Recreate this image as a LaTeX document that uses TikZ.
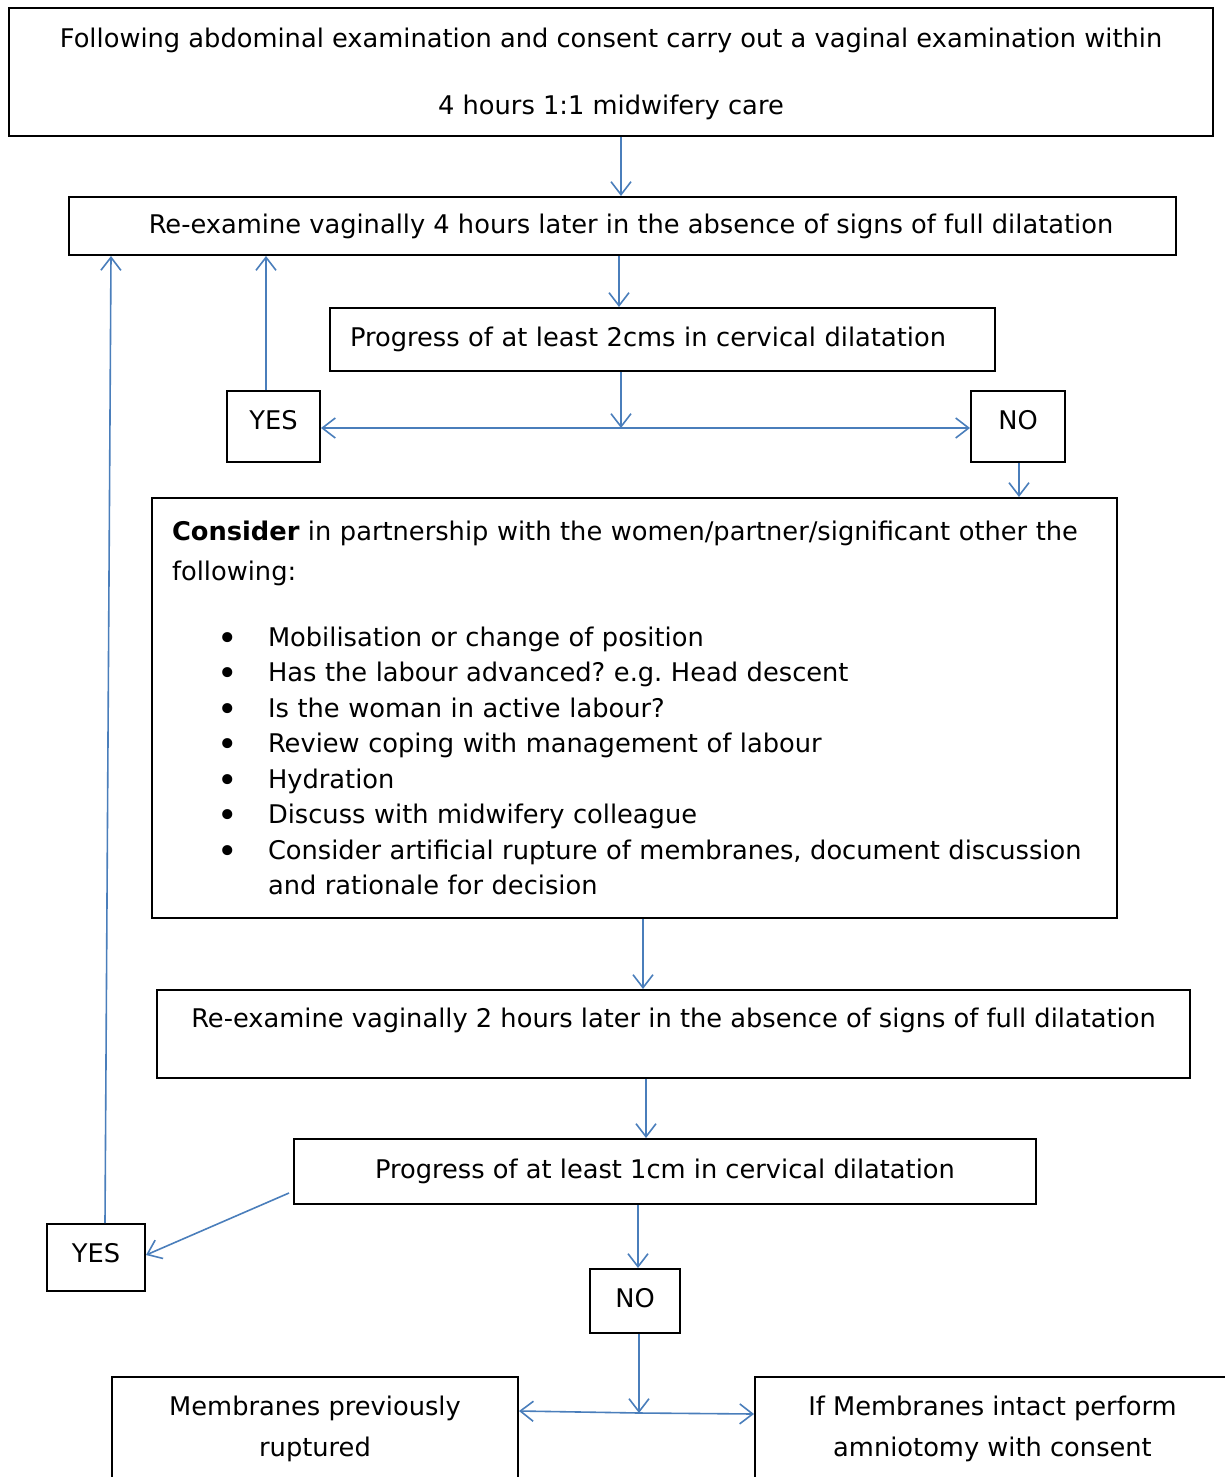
\documentclass[tikz,border=0pt]{standalone}
\usepackage{fontspec}
\setmainfont{DejaVu Sans}
\usetikzlibrary{arrows.meta,calc}
\definecolor{linkblue}{HTML}{4A7EBB}
\newcommand{\bul}{\hspace*{45pt}\makebox[51pt][l]{\raisebox{-4pt}{\scalebox{1.35}{•}}}}
\begin{document}
\frenchspacing
\begin{tikzpicture}[x=1pt,y=-1pt,
  box/.style={draw=black,line width=2pt,rectangle,inner sep=0pt,align=center,
    font=\fontsize{25.7}{30}\selectfont},
  arr/.style={draw=linkblue,line width=1.6pt,-{Straight Barb[length=13pt,width=20pt,line width=1.6pt]}},
  ln/.style={draw=linkblue,line width=1.6pt}]
\useasboundingbox (0,0) rectangle (1225,1477);
\clip (0,0) rectangle (1225,1477);

% top box
\node[box,minimum width=1204,minimum height=128,
  font=\fontsize{25.7}{67}\selectfont,text height=86,text depth=1] (b1) at (611,72)
  {Following abdominal examination and consent carry out a vaginal examination within\\4 hours 1:1 midwifery care};

\node[box,minimum width=1107,minimum height=58] (b2) at (622.5,226)
  {\hspace*{17pt}Re-examine vaginally 4 hours later in the absence of signs of full dilatation};

\node[box,minimum width=665,minimum height=63,text width=625,align=left] (b3) at (662.5,339.5)
  {Progress of at least 2cms in cervical dilatation};

\node[box,minimum width=93,minimum height=71,text height=18,text depth=12] (y1) at (273.5,426.5) {YES};
\node[box,minimum width=94,minimum height=71,text height=18,text depth=12] (n1) at (1018,426.5) {NO};

\node[box,minimum width=965,minimum height=420,text width=925,align=left,
  font=\fontsize{25.7}{40}\selectfont] (b4) at (634.5,708)
  {\textbf{Consider} in partnership with the women/partner/significant other the\\
   following:\\[30pt]
   {\fontsize{25.7}{35.5}\selectfont
   \bul Mobilisation or change of position\\
   \bul Has the labour advanced? e.g. Head descent\\
   \bul Is the woman in active labour?\\
   \bul Review coping with management of labour\\
   \bul Hydration\\
   \bul Discuss with midwifery colleague\\
   \bul Consider artificial rupture of membranes, document discussion\\
   \hspace*{96pt}and rationale for decision\par}};

\node[box,minimum width=1033,minimum height=88,text height=18,text depth=31] (b5) at (673.5,1034)
  {Re-examine vaginally 2 hours later in the absence of signs of full dilatation};

\node[box,minimum width=742,minimum height=65] (b6) at (665,1171.5)
  {Progress of at least 1cm in cervical dilatation};

\node[box,minimum width=98,minimum height=67,text height=18,text depth=8] (y2) at (96,1257.5) {YES};
\node[box,minimum width=90,minimum height=64,text height=18,text depth=5] (n2) at (635,1301) {NO};

\node[box,anchor=north,minimum width=406,minimum height=130,
  font=\fontsize{25.7}{41}\selectfont,text height=40,text depth=12] (b7) at (315,1376)
  {Membranes previously\\ruptured};
\node[box,anchor=north,minimum width=475,minimum height=130,
  font=\fontsize{25.7}{41}\selectfont,text height=40,text depth=12] (b8) at (992.5,1376)
  {If Membranes intact perform\\amniotomy with consent};

\coordinate (j1) at (621,428);
\coordinate (j2) at (639,1413);

% connectors
\draw[arr] (b1.south -| 621,0) -- (b2.north -| 621,0);
\draw[arr] (b2.south -| 619,0) -- (b3.north -| 619,0);
\draw[arr] (b3.south -| 621,0) -- (j1);
\draw[arr] (j1) -- (y1.east |- j1);
\draw[arr] (j1) -- (n1.west |- j1);
\draw[arr] (y1.north -| 266,0) -- (b2.south -| 266,0);
\draw[arr] (n1.south -| 1019,0) -- (b4.north -| 1019,0);
\draw[arr] (b4.south -| 643,0) -- (b5.north -| 643,0);
\draw[arr] (b5.south -| 646,0) -- (b6.north -| 646,0);
\draw[arr] ($(b6.west |- 0,1193)+(-4,0)$) -- (y2.east |- 0,1255);
\draw[arr] (y2.north -| 105,0) -- (b2.south -| 111,0);
\draw[arr] (b6.south -| 638,0) -- (n2.north -| 638,0);
\draw[arr] (n2.south -| 639,0) -- (j2);
\draw[arr] (j2) -- (b7.east |- 0,1411);
\draw[arr] (j2) -- (b8.west |- 0,1414);
\end{tikzpicture}
\end{document}
